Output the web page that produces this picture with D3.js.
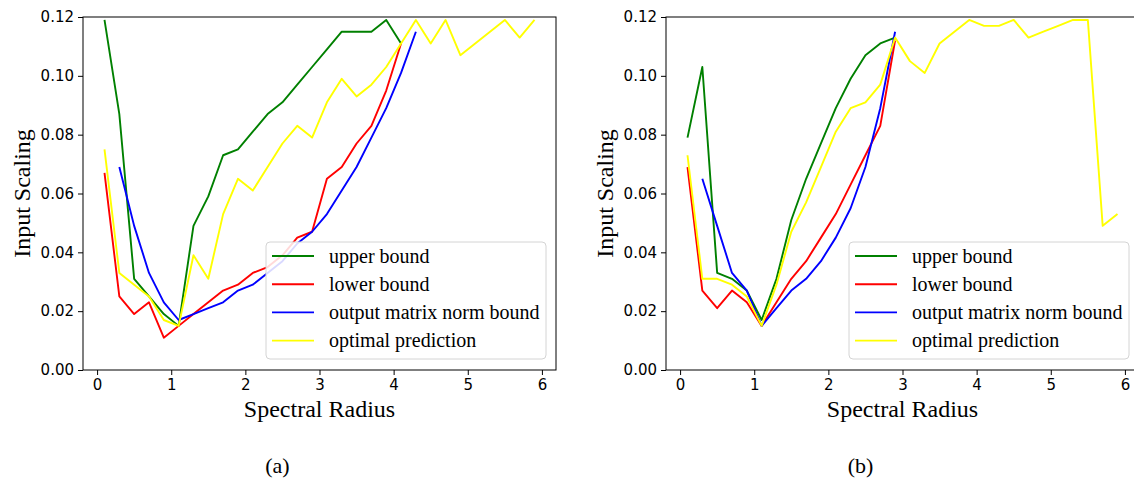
<!DOCTYPE html>
<html>
<head>
<meta charset="utf-8">
<script src="https://cdn.jsdelivr.net/npm/d3@7"></script>
<style>
    body { margin: 0; background: #fff; }
    #fig svg { display: block; }
</style>
</head>
<body>
<div id="fig"></div>
<script>
// spectral radius values (x) used by every series
const radius = [0.1, 0.3, 0.5, 0.7, 0.9, 1.1, 1.3, 1.5, 1.7, 1.9, 2.1, 2.3, 2.5, 2.7, 2.9,
    3.1, 3.3, 3.5, 3.7, 3.9, 4.1, 4.3, 4.5, 4.7, 4.9, 5.1, 5.3, 5.5, 5.7, 5.9];

// panel (a)
const upperA = [0.119, 0.087, 0.031, 0.025, 0.019, 0.015, 0.049, 0.059, 0.073, 0.075, 0.081,
    0.087, 0.091, 0.097, 0.103, 0.109, 0.115, 0.115, 0.115, 0.119, 0.111];               // 0.1 .. 4.1
const lowerA = [0.067, 0.025, 0.019, 0.023, 0.011, 0.015, 0.019, 0.023, 0.027, 0.029, 0.033,
    0.035, 0.039, 0.045, 0.047, 0.065, 0.069, 0.077, 0.083, 0.095, 0.111];               // 0.1 .. 4.1
const normA = [0.069, 0.049, 0.033, 0.023, 0.017, 0.019, 0.021, 0.023, 0.027, 0.029, 0.033,
    0.037, 0.043, 0.047, 0.053, 0.061, 0.069, 0.079, 0.089, 0.101, 0.115];               // 0.3 .. 4.3
const optimalA = [0.075, 0.033, 0.029, 0.025, 0.017, 0.015, 0.039, 0.031, 0.053, 0.065, 0.061,
    0.069, 0.077, 0.083, 0.079, 0.091, 0.099, 0.093, 0.097, 0.103, 0.111, 0.119, 0.111, 0.119,
    0.107, 0.111, 0.115, 0.119, 0.113, 0.119];                                            // 0.1 .. 5.9

// panel (b)
const upperB = [0.079, 0.103, 0.033, 0.031, 0.027, 0.017, 0.031, 0.051, 0.065, 0.077, 0.089,
    0.099, 0.107, 0.111, 0.113];                                                          // 0.1 .. 2.9
const lowerB = [0.069, 0.027, 0.021, 0.027, 0.023, 0.015, 0.023, 0.031, 0.037, 0.045, 0.053,
    0.063, 0.073, 0.083, 0.112];                                                          // 0.1 .. 2.9
const normB = [0.065, 0.049, 0.033, 0.027, 0.015, 0.021, 0.027, 0.031, 0.037, 0.045, 0.055,
    0.069, 0.089, 0.115];                                                                 // 0.3 .. 2.9
const optimalB = [0.073, 0.031, 0.031, 0.029, 0.025, 0.015, 0.029, 0.047, 0.057, 0.069, 0.081,
    0.089, 0.091, 0.097, 0.113, 0.105, 0.101, 0.111, 0.115, 0.119, 0.117, 0.117, 0.119, 0.113,
    0.115, 0.117, 0.119, 0.119, 0.049, 0.053];                                            // 0.1 .. 5.9

const seriesNames = ["upper bound", "lower bound", "output matrix norm bound", "optimal prediction"];
const seriesColors = ["green", "red", "blue", "yellow"];
const xTicks = [0, 1, 2, 3, 4, 5, 6];
const yTicks = [0, 0.02, 0.04, 0.06, 0.08, 0.10, 0.12];
const xLabel = "Spectral Radius";
const yLabel = "Input Scaling";

const paramsFig = {
    elementId: "#fig",
    panels: [
        { left: 83, caption: "(a)", lines: [
            { name: 0, start: 0, values: upperA },
            { name: 1, start: 0, values: lowerA },
            { name: 2, start: 1, values: normA },
            { name: 3, start: 0, values: optimalA }] },
        { left: 666, caption: "(b)", lines: [
            { name: 0, start: 0, values: upperB },
            { name: 1, start: 0, values: lowerB },
            { name: 2, start: 1, values: normB },
            { name: 3, start: 0, values: optimalB }] }
    ]
}

class chartFig {
    constructor(params) {
        this.width = 1134;
        this.height = 479;
        this.svg = d3.select(params.elementId)
            .append("svg")
            .attr("width", this.width)
            .attr("height", this.height);
        this.svg.append("rect").attr("width", this.width).attr("height", this.height).attr("fill", "#fff");

        params.panels.forEach(p => this.drawPanel(p));
    }

    drawPanel(p) {
        const top = 17, bottom = 370, w = 473;
        // matplotlib style 5% margins around 0.1 .. 5.9
        const x = d3.scaleLinear().domain([-0.19, 6.19]).range([p.left, p.left + w]);
        const y = d3.scaleLinear().domain([0, 0.12]).range([bottom, top]);
        const g = this.svg.append("g");

        // lines first, spines on top
        const line = d3.line().x(d => x(d[0])).y(d => y(d[1]));
        p.lines.forEach(s => {
            const pts = s.values.map((v, i) => [radius[s.start + i], v]);
            g.append("path")
                .datum(pts)
                .attr("fill", "none")
                .attr("stroke", seriesColors[s.name])
                .attr("stroke-width", 1.9)
                .attr("stroke-linejoin", "round")
                .attr("d", line);
        });

        const xAxis = g.append("g")
            .attr("transform", "translate(0," + bottom + ")")
            .call(d3.axisBottom(x).tickValues(xTicks).tickFormat(d3.format("d")).tickSize(5).tickPadding(4));
        const yAxis = g.append("g")
            .attr("transform", "translate(" + p.left + ",0)")
            .call(d3.axisLeft(y).tickValues(yTicks).tickFormat(d3.format(".2f")).tickSize(5).tickPadding(4));
        [xAxis, yAxis].forEach(a => {
            a.selectAll("text").attr("font-family", "DejaVu Sans").attr("font-size", 15).attr("fill", "#000");
            a.selectAll("line").attr("stroke", "#000");
            a.select(".domain").remove();
        });

        // box
        g.append("rect")
            .attr("x", p.left).attr("y", top)
            .attr("width", w).attr("height", bottom - top)
            .attr("fill", "none").attr("stroke", "#000").attr("stroke-width", 1);

        // legend
        const lg = g.append("g").attr("transform", "translate(" + (p.left + 183) + ",242)");
        lg.append("rect")
            .attr("width", 280).attr("height", 117).attr("rx", 4)
            .attr("fill", "#fff").attr("fill-opacity", 0.85)
            .attr("stroke", "#d4d4d4").attr("stroke-width", 1);
        seriesNames.forEach((name, i) => {
            const ry = 14 + i * 28.2;
            lg.append("line")
                .attr("x1", 6).attr("x2", 48).attr("y1", ry).attr("y2", ry)
                .attr("stroke", seriesColors[i]).attr("stroke-width", 1.9);
            lg.append("text")
                .attr("x", 63).attr("y", ry + 6.5)
                .attr("font-family", "Liberation Serif").attr("font-size", 20)
                .text(name);
        });

        // labels
        g.append("text")
            .attr("x", p.left + w / 2).attr("y", 417)
            .attr("text-anchor", "middle")
            .attr("font-family", "Liberation Serif").attr("font-size", 24)
            .text(xLabel);
        g.append("text")
            .attr("transform", "translate(" + (p.left - 53) + "," + ((top + bottom) / 2) + ") rotate(-90)")
            .attr("text-anchor", "middle")
            .attr("font-family", "Liberation Serif").attr("font-size", 24)
            .text(yLabel);
        g.append("text")
            .attr("x", x(3) - 42).attr("y", 473)
            .attr("text-anchor", "middle")
            .attr("font-family", "Liberation Serif").attr("font-size", 22)
            .text(p.caption);
    }
}

function whenDocumentLoaded(action) {
    if (document.readyState === "loading") {
        document.addEventListener("DOMContentLoaded", action);
    } else {
        action();
    }
}
whenDocumentLoaded(() => {
    plot_object = new chartFig(paramsFig);
});
</script>
</body>
</html>
